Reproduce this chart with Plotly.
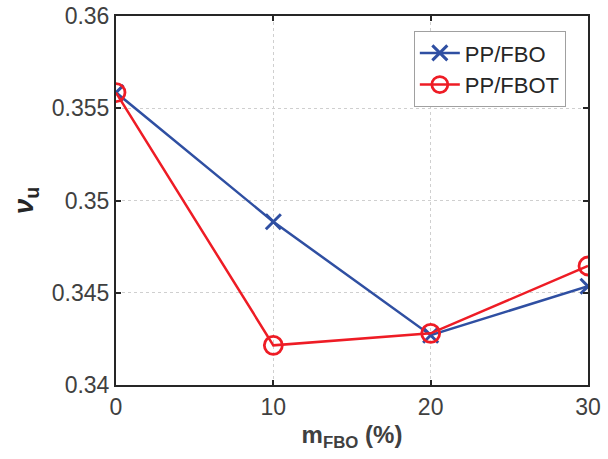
import plotly.graph_objects as go

x_vals = [0, 10, 20, 30]
fbo = [0.35585, 0.34885, 0.34270, 0.34535]
fbot = [0.35585, 0.34215, 0.34280, 0.34645]
x_ticks = [0, 10, 20, 30]
y_ticks = [0.34, 0.345, 0.35, 0.355, 0.36]
y_labels = ["0.34", "0.345", "0.35", "0.355", "0.36"]

FONT = "Liberation Sans, Arial, Helvetica"

fig = go.Figure()
fig.add_trace(go.Scatter(x=x_vals, y=fbo, name="PP/FBO", mode="lines+markers",
                         line=dict(color="#2F4FA2", width=2.5),
                         marker=dict(symbol="x-thin", size=15, line=dict(color="#2F4FA2", width=3))))
fig.add_trace(go.Scatter(x=x_vals, y=fbot, name="PP/FBOT", mode="lines+markers",
                         line=dict(color="#EE1C25", width=2.5),
                         marker=dict(symbol="circle-open", size=18, line=dict(color="#EE1C25", width=2.8))))

axis_common = dict(showline=True, linecolor="#262626", linewidth=2, mirror="ticks",
                   ticks="inside", ticklen=5, tickwidth=2, tickcolor="#262626",
                   showgrid=True, gridcolor="#CFCFCF", griddash="dot", gridwidth=1,
                   zeroline=False, automargin=False,
                   tickfont=dict(family=FONT, size=23, color="#404040"))

fig.update_layout(
    width=608, height=459,
    margin=dict(l=116, r=20, t=16, b=74, autoexpand=False),
    plot_bgcolor="white", paper_bgcolor="white",
    font=dict(family=FONT, color="#404040"),
    xaxis=dict(range=[0, 30], tickvals=x_ticks,
               title=dict(text="<b>m<sub>FBO</sub> (%)</b>", font=dict(family=FONT, size=24, color="#404040"), standoff=8),
               **axis_common),
    yaxis=dict(range=[0.34, 0.36], tickvals=y_ticks, ticktext=y_labels,
               title=dict(text="<b><i>ν</i><sub>u</sub></b>", font=dict(family=FONT, size=28, color="#262626"), standoff=10),
               **axis_common),
    legend=dict(x=0.631, y=0.959, xanchor="left", yanchor="top",
                bgcolor="white", bordercolor="#A0A0A0", borderwidth=1,
                font=dict(family=FONT, size=22, color="#262626"), itemwidth=40, tracegroupgap=0),
    showlegend=True,
)

fig.write_html("out.html", config={"displayModeBar": False},
               post_script="document.body.style.margin='0';document.body.style.padding='0';")
